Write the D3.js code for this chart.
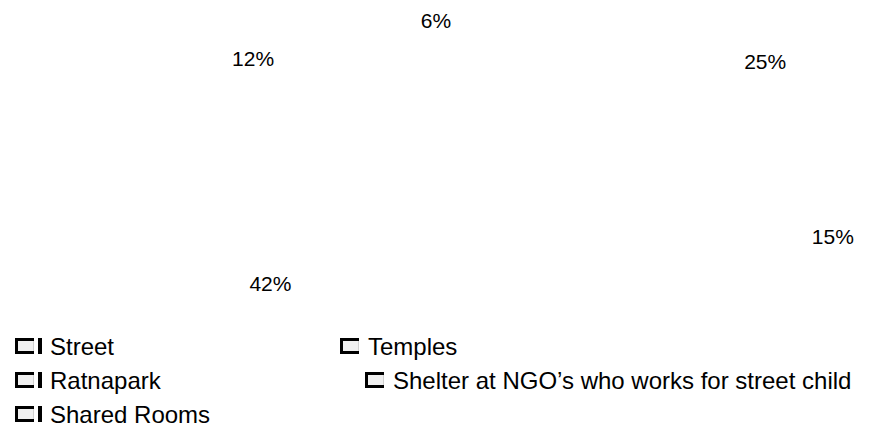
<!DOCTYPE html>
<html>
<head>
<meta charset="utf-8">
<script src="https://cdn.jsdelivr.net/npm/d3@7"></script>
<style>
  body { margin: 0; background: #fff; }
  text { font-family: "Liberation Sans", Arial, sans-serif; fill: #000; }
</style>
</head>
<body>
<div id="pie_shelter"></div>
<script>
// data
const categories = ["Temples", "Shelter at NGO’s who works for street child", "Street", "Shared Rooms", "Ratnapark"];
const values = [25, 15, 42, 12, 6];
const legendOrder = ["Street", "Ratnapark", "Shared Rooms", "Temples", "Shelter at NGO’s who works for street child"];

const svg = d3.select("#pie_shelter").append("svg")
  .attr("width", 880)
  .attr("height", 430);

// labels sit on a flat ellipse round the (invisible) pie
const cx = 505, cy = 168, rx = 368, ry = 150;

const pie = d3.pie().sort(null).value(d => d.value);
const arcs = pie(categories.map((c, i) => ({key: c, value: values[i]})));

const g_labels = svg.append("g");
g_labels.selectAll("text")
  .data(arcs)
  .enter().append("text")
  .attr("x", d => cx + rx * Math.sin((d.startAngle + d.endAngle) / 2))
  .attr("y", d => cy - ry * Math.cos((d.startAngle + d.endAngle) / 2))
  .attr("dy", "0.36em")
  .attr("text-anchor", "middle")
  .style("font-size", "21px")
  .text(d => d.value + "%");

// legend
const legendPos = [[15, 346], [15, 380], [15, 414], [340, 346], [365, 380]];
const legend = svg.selectAll(".legend")
  .data(legendOrder)
  .enter().append("g")
  .attr("class", "legend")
  .attr("transform", (d, i) => "translate(" + legendPos[i][0] + "," + legendPos[i][1] + ")");

legend.append("rect")
  .attr("x", 1.5)
  .attr("y", -7)
  .attr("width", 17)
  .attr("height", 14)
  .attr("fill", "#f0f0f0")
  .attr("stroke", "#d0d0d0");

legend.append("path")
  .attr("d", "M19,-6.5H1.5V6.5H19")
  .attr("fill", "none")
  .attr("stroke", "#000")
  .attr("stroke-width", 3);

legend.filter((d, i) => i < 3).append("rect")
  .attr("x", 23)
  .attr("y", -8)
  .attr("width", 4)
  .attr("height", 16)
  .attr("fill", "#000");

legend.append("text")
  .attr("x", (d, i) => i < 3 ? 35 : 28)
  .attr("y", 0)
  .attr("dy", "0.36em")
  .style("font-size", "24px")
  .text(d => d);
</script>
</body>
</html>
